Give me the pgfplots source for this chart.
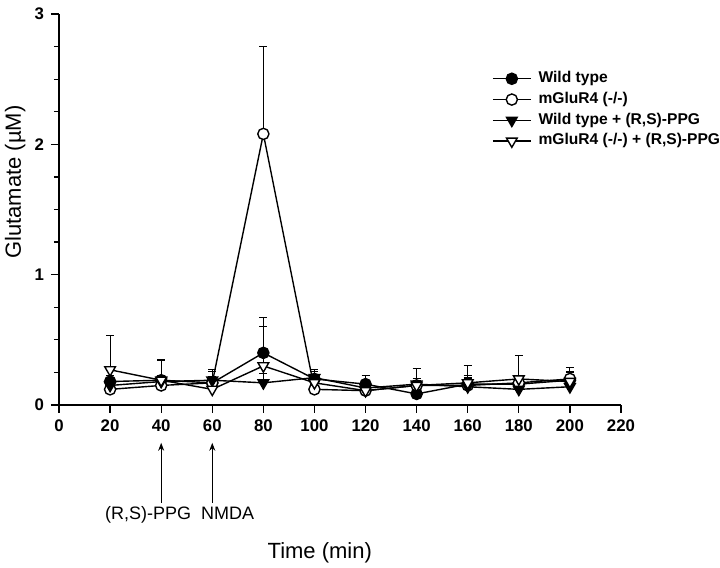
\documentclass[border=0pt]{standalone}
\usepackage{fontspec}
\setmainfont{Liberation Sans}
\usepackage{pgfplots}
\usepackage{pgfplotstable}
\pgfplotsset{compat=1.18}
\usetikzlibrary{arrows.meta}

% time (min), glutamate (uM), upper SEM
\pgfplotstableread{
t v e
20 0.18 0.05
40 0.19 0.04
60 0.17 0.10
80 0.40 0.27
100 0.20 0.07
120 0.16 0.07
140 0.085 0.03
160 0.16 0.05
180 0.16 0.03
200 0.19 0.10
}\wt
\pgfplotstableread{
t v e
20 0.12 0.03
40 0.15 0.04
60 0.17 0.05
80 2.08 0.67
100 0.12 0.04
120 0.11 0.04
140 0.15 0.04
160 0.15 0.05
180 0.17 0.04
200 0.20 0.05
}\ko
\pgfplotstableread{
t v e
20 0.15 0.04
40 0.18 0.17
60 0.19 0.07
80 0.17 0.07
100 0.21 0.05
120 0.13 0.05
140 0.16 0.12
160 0.14 0.09
180 0.12 0.04
200 0.14 0.05
}\wtp
\pgfplotstableread{
t v e
20 0.27 0.26
40 0.19 0.15
60 0.12 0.05
80 0.30 0.30
100 0.17 0.05
120 0.11 0.07
140 0.15 0.05
160 0.17 0.13
180 0.20 0.18
200 0.18 0.08
}\kop

\begin{document}
\begin{tikzpicture}
\path[use as bounding box] (-29.5pt,-81.5pt) rectangle (330.5pt,202.5pt);
\begin{axis}[
  width=281pt, height=195.5pt, scale only axis,
  xmin=0, xmax=220, ymin=0, ymax=3,
  clip=false,
  axis x line=bottom, axis y line=left,
  axis line style={-, line width=0.6pt},
  tick align=outside,
  major tick length=4pt, minor tick length=2.5pt,
  tick style={black, line width=0.6pt},
  xtick={0,20,...,220},
  ytick={0,1,2,3},
  minor y tick num=3,
  /pgf/number format/assume math mode=true,
  tick label style={font=\bfseries\fontsize{8.4}{10}\selectfont},
  xlabel={Time (min)},
  ylabel={Glutamate (µM)},
  label style={font=\fontsize{11}{13}\selectfont},
  xlabel style={at={(axis description cs:0.464,-0.378)}, anchor=center},
  ylabel style={at={(axis description cs:-0.078,0.57)}, anchor=center},
  legend style={at={(axis description cs:0.770,0.862)}, anchor=north west,
    draw=none, fill=none, inner sep=0pt, row sep=0pt,
    font=\bfseries\fontsize{7.8}{9}\selectfont,
    nodes={inner xsep=3.5pt, inner ysep=1.5pt, text height=5.6pt, text depth=1.8pt}},
  legend cell align=left,
  legend image code/.code={
    \draw[mark repeat=2, mark phase=2] plot coordinates {(0pt,0pt) (9.5pt,0pt) (19pt,0pt)};},
  every axis plot/.append style={black, line width=0.7pt},
  error bars/error bar style={line width=0.5pt, black},
  error bars/error mark options={black, line width=0.5pt, mark size=2pt, rotate=90},
]
\addplot[mark=*, mark size=2.8pt, mark options={solid, fill=black},
  error bars/.cd, y dir=plus, y explicit] table[x=t, y=v, y error=e] {\wt};
\addlegendentry{Wild type}
\addplot[mark=*, mark size=2.8pt, mark options={solid, fill=white},
  error bars/.cd, y dir=plus, y explicit] table[x=t, y=v, y error=e] {\ko};
\addlegendentry{mGluR4 (-/-)}
\addplot[mark=triangle*, mark size=3.1pt, mark options={solid, fill=black, rotate=180},
  error bars/.cd, y dir=plus, y explicit] table[x=t, y=v, y error=e] {\wtp};
\addlegendentry{Wild type + (R,S)-PPG}
\addplot[mark=triangle*, mark size=3.1pt, mark options={solid, fill=white, rotate=180},
  error bars/.cd, y dir=plus, y explicit] table[x=t, y=v, y error=e] {\kop};
\addlegendentry{mGluR4 (-/-) + (R,S)-PPG}

\draw[line width=0.5pt, -{Stealth[length=4pt, width=3pt]}] (axis cs:40,-0.75) -- (axis cs:40,-0.29);
\draw[line width=0.5pt, -{Stealth[length=4pt, width=3pt]}] (axis cs:60,-0.75) -- (axis cs:60,-0.29);
\node[font=\fontsize{9}{11}\selectfont, inner sep=0pt] at (axis cs:47.2,-0.844) {(R,S)-PPG\hspace{5pt}NMDA};
\end{axis}
\end{tikzpicture}
\end{document}
